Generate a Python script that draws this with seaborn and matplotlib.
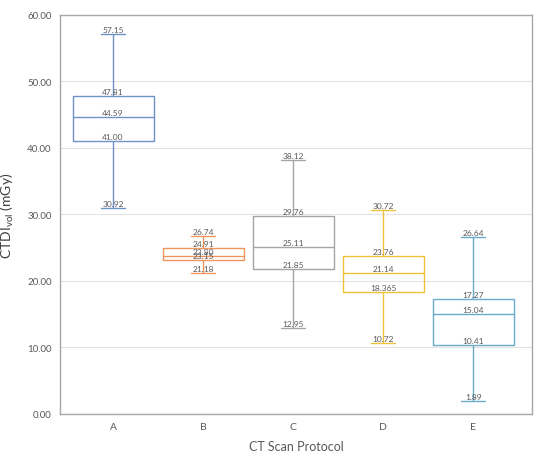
import numpy as np
import pandas as pd
import seaborn as sns
import matplotlib.pyplot as plt

# CTDIvol per protocol: min, q1, median, q3, max
protocols = ["A", "B", "C", "D", "E"]
mins = [30.92, 21.18, 12.95, 10.72, 1.89]
q1s = [41.00, 23.15, 21.85, 18.365, 10.41]
medians = [44.59, 23.80, 25.11, 21.14, 15.04]
q3s = [47.81, 24.91, 29.76, 23.76, 17.27]
maxs = [57.15, 26.74, 38.12, 30.72, 26.64]
label_text = {
    "A": ["30.92", "41.00", "44.59", "47.81", "57.15"],
    "B": ["21.18", "23.15", "23.80", "24.91", "26.74"],
    "C": ["12.95", "21.85", "25.11", "29.76", "38.12"],
    "D": ["10.72", "18.365", "21.14", "23.76", "30.72"],
    "E": ["1.89", "10.41", "15.04", "17.27", "26.64"],
}
colors = ["#6F93C8", "#EF9560", "#A5A5A5", "#F0C23A", "#6AAACD"]

# five points per protocol reproduce the five-number summary exactly
rows = []
for i, p in enumerate(protocols):
    for v in (mins[i], q1s[i], medians[i], q3s[i], maxs[i]):
        rows.append({"protocol": p, "ctdi": v})
df = pd.DataFrame(rows)

sns.set_theme(style="white")
plt.rcParams["font.family"] = ["Lato", "DejaVu Sans"]

fig = plt.figure(figsize=(5.5, 4.56), dpi=100)
ax = fig.add_axes([0.109, 0.09, 0.858, 0.875])

sns.boxplot(data=df, x="protocol", y="ctdi", hue="protocol", palette=colors,
            fill=False, width=0.9, whis=(0, 100), linewidth=1.0, legend=False,
            capwidths=0.27, ax=ax)

for i, p in enumerate(protocols):
    vals = [mins[i], q1s[i], medians[i], q3s[i], maxs[i]]
    for v, t in zip(vals, label_text[p]):
        ax.text(i, v + 0.15, t, ha="center", va="bottom", fontsize=6, color="#595959")

ax.set_ylim(0, 60)
ax.set_xlim(-0.59, 4.65)
ax.set_yticks(np.arange(0, 61, 10))
ax.set_yticklabels([f"{v:.2f}" for v in range(0, 61, 10)])
ax.yaxis.grid(True, color="#e3e3e3", linewidth=0.8)
ax.set_axisbelow(True)
ax.tick_params(axis="y", length=0, labelsize=7, labelcolor="#595959", pad=6)
ax.tick_params(axis="x", length=0, labelsize=7.5, labelcolor="#595959", pad=6)
for s in ax.spines.values():
    s.set_color("#a8a8a8")
    s.set_linewidth(1.0)

ax.set_xlabel("CT Scan Protocol", fontsize=9, color="#595959", labelpad=6)
ax.set_ylabel(r"CTDI$_{\mathregular{vol}}$ (mGy)", fontsize=10, color="#404040", labelpad=8)

fig.savefig("out.png", dpi=100)
